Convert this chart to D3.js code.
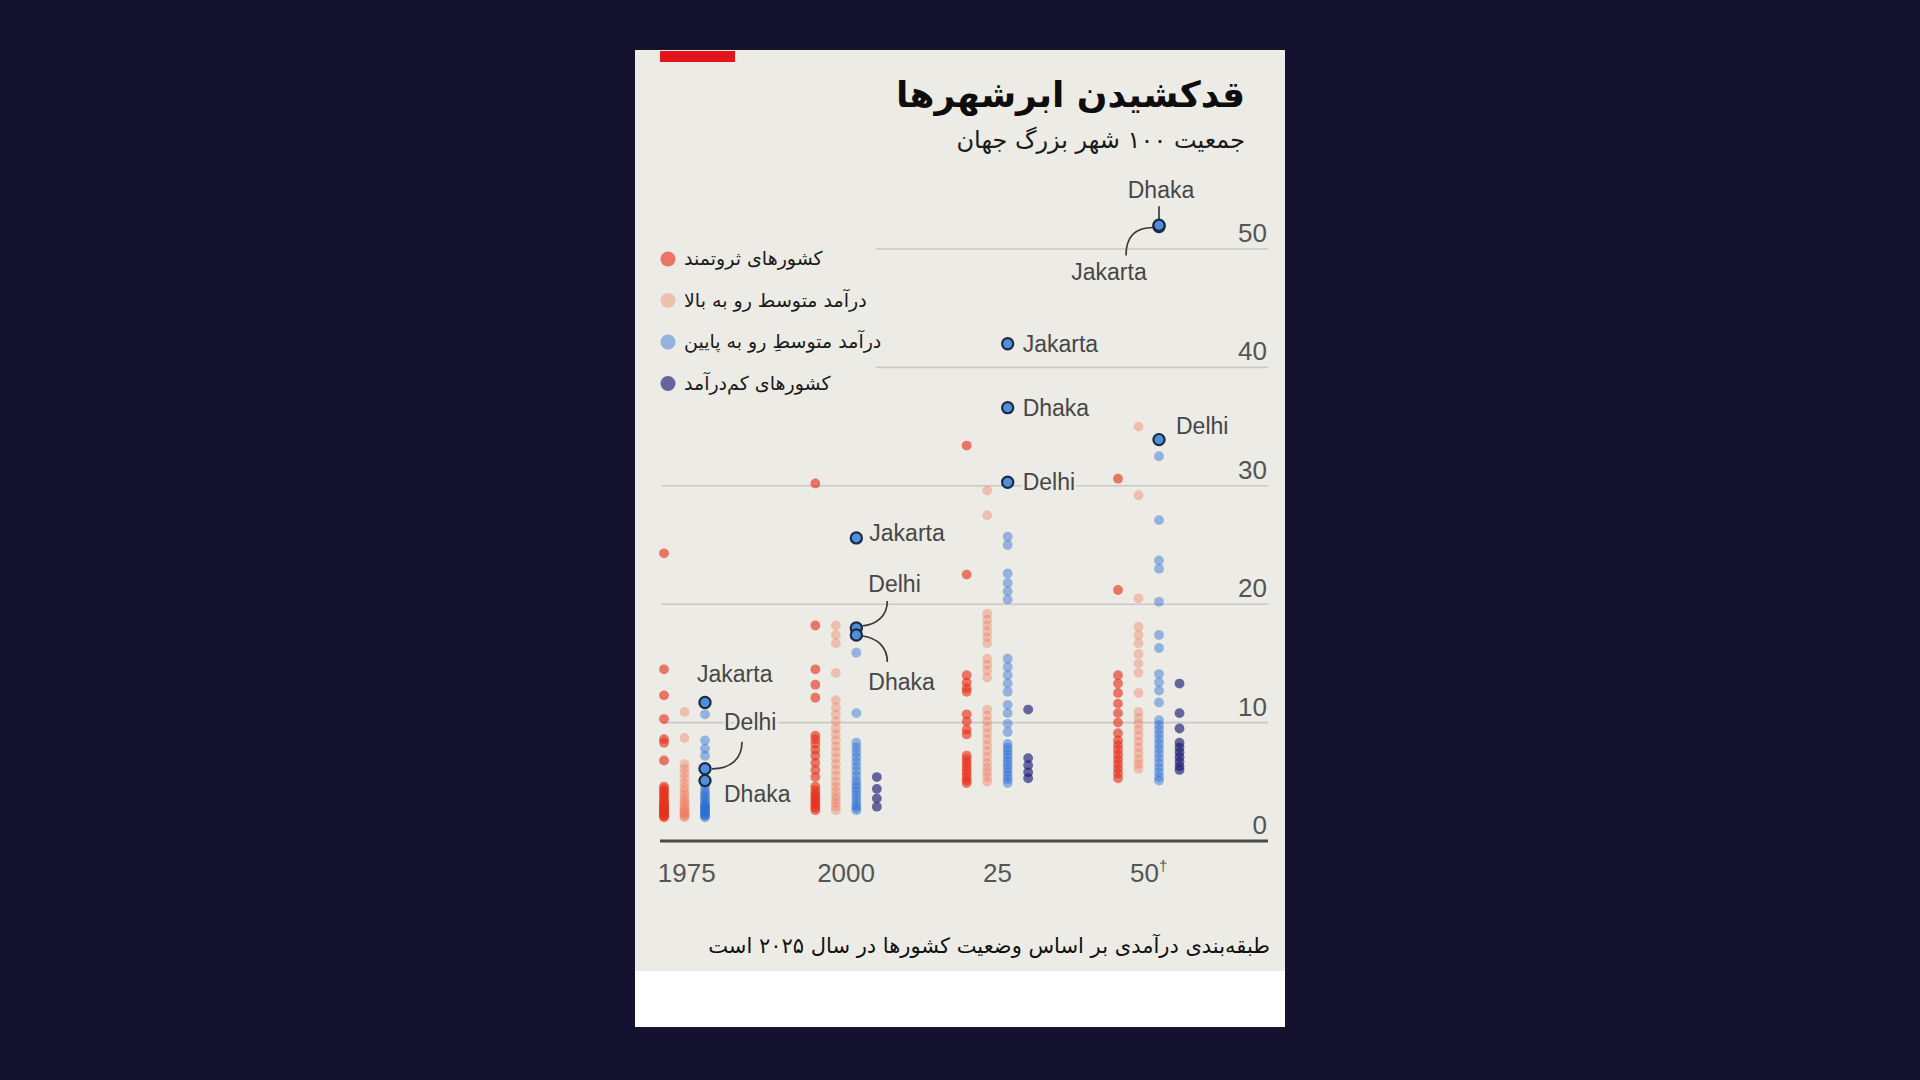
<!DOCTYPE html>
<html><head><meta charset="utf-8">
<script src="https://cdn.jsdelivr.net/npm/d3@7"></script>
<style>
html,body{margin:0;padding:0;background:#15122f;}
svg{display:block}
</style></head>
<body>
<svg id="c" width="1920" height="1080"></svg>
<script>
// ---------- data ----------
const years = [1975, 2000, 2025, 2050];
const yearTickLabels = ["1975", "2000", "25", "50"];
const yTicks = [0, 10, 20, 30, 40, 50];
const categories = ["rich", "upperMid", "lowerMid", "low"];
const legendLabels = ["کشورهای ثروتمند", "درآمد متوسط رو به بالا", "درآمد متوسطِ رو به پایین", "کشورهای کم‌درآمد"];
const titleText = "قدکشیدن ابرشهرها";
const subtitleText = "جمعیت ۱۰۰ شهر بزرگ جهان";
const footnoteText = "طبقه‌بندی درآمدی بر اساس وضعیت کشورها در سال ۲۰۲۵ است";

// population (millions) per year: [1975, 2000, 2025, 2050]
const richValues = [
  [24.3, 14.5, 12.3, 10.3, 8.6, 8.3, 6.8, 4.6, 4.4, 4.2, 4.0, 3.8, 3.6, 3.4, 3.3, 3.1, 3.0, 2.9, 2.8, 2.7, 2.6, 2.5, 2.4, 2.3, 2.2, 2.1, 2.0],
  [30.2, 18.2, 14.5, 13.2, 12.1, 8.9, 8.6, 8.2, 7.7, 7.2, 6.6, 6.0, 5.4, 4.6, 4.3, 4.0, 3.8, 3.6, 3.4, 3.2, 3.0, 2.8, 2.6],
  [33.4, 22.5, 14.0, 13.4, 12.9, 12.6, 10.7, 10.1, 9.4, 9.0, 7.2, 6.9, 6.6, 6.3, 6.0, 5.7, 5.4, 5.1, 4.9],
  [30.6, 21.2, 14.0, 13.3, 12.5, 11.6, 10.8, 10.0, 9.1, 8.5, 8.1, 7.7, 7.3, 6.9, 6.5, 6.1, 5.7, 5.3]
];
const upperMidValues = [
  [10.9, 8.7, 6.5, 6.1, 5.7, 5.3, 4.9, 4.5, 4.2, 3.9, 3.6, 3.4, 3.2, 3.0, 2.8, 2.6, 2.5, 2.4, 2.3, 2.2, 2.1, 2.0],
  [18.2, 17.4, 16.7, 14.2, 11.9, 11.3, 10.7, 10.1, 9.5, 9.0, 8.5, 8.0, 7.5, 7.0, 6.5, 6.0, 5.5, 5.0, 4.6, 4.2, 3.8, 3.5, 3.2, 2.9, 2.6],
  [29.6, 27.5, 19.2, 18.7, 18.2, 17.7, 17.2, 16.7, 15.4, 14.9, 14.4, 13.8, 11.1, 10.6, 10.1, 9.6, 9.1, 8.6, 8.1, 7.6, 7.1, 6.6, 6.2, 5.8, 5.4, 5.0],
  [35.0, 29.2, 20.5, 18.1, 17.4, 16.7, 15.8, 15.0, 14.2, 12.5, 10.9, 10.4, 9.9, 9.4, 8.9, 8.4, 7.9, 7.4, 6.9, 6.5, 6.1]
];
const lowerMidValues = [
  [10.7, 8.5, 7.8, 7.2, 4.7, 4.4, 4.1, 3.9, 3.7, 3.5, 3.3, 3.1, 3.0, 2.9, 2.8, 2.7, 2.6, 2.5, 2.4, 2.3, 2.2, 2.1, 2.0],
  [15.9, 10.8, 8.3, 7.9, 7.5, 7.1, 6.7, 6.3, 5.9, 5.5, 5.1, 4.8, 4.5, 4.2, 3.9, 3.6, 3.3, 3.0, 2.8, 2.6],
  [25.7, 25.0, 22.6, 21.8, 21.1, 20.4, 15.4, 14.7, 14.0, 13.3, 12.6, 11.5, 10.8, 9.9, 9.2, 8.2, 7.9, 7.6, 7.3, 7.0, 6.7, 6.4, 6.1, 5.8, 5.5, 5.2, 4.9],
  [32.5, 27.1, 23.7, 23.0, 20.2, 17.4, 16.3, 14.1, 13.4, 12.7, 11.7, 10.2, 9.8, 9.4, 9.0, 8.6, 8.2, 7.8, 7.4, 7.0, 6.6, 6.2, 5.8, 5.4, 5.1]
];
const lowValues = [
  [],
  [5.4, 4.4, 3.6, 2.9],
  [11.1, 7.0, 6.4, 5.8, 5.3],
  [13.3, 10.8, 9.5, 8.3, 7.9, 7.5, 7.1, 6.7, 6.3, 6.0]
];
const highlightCities = ["Jakarta", "Delhi", "Dhaka"];
const jakartaValues = [11.7, 25.6, 42.0, 51.9];
const delhiValues = [6.1, 18.0, 30.3, 33.9];
const dhakaValues = [5.1, 17.4, 36.6, 52.0];

// ---------- styles ----------
const catStyle = {
  rich: {fill: "#e8321c", op: 0.64},
  upperMid: {fill: "#f07d5e", op: 0.4},
  lowerMid: {fill: "#2a6fd6", op: 0.46},
  low: {fill: "#1e1f78", op: 0.66}
};
const cardBg = "#ecebe5";
const latin = "'Liberation Sans', Arial, sans-serif";
const persian = "'DejaVu Sans', sans-serif";

const svg = d3.select("#c");

// card
svg.append("rect").attr("x", 635).attr("y", 50).attr("width", 650).attr("height", 977).attr("fill", cardBg);
svg.append("rect").attr("x", 635).attr("y", 971).attr("width", 650).attr("height", 56).attr("fill", "#ffffff");
svg.append("rect").attr("x", 660).attr("y", 51).attr("width", 75).attr("height", 11).attr("fill", "#e3141b");

// scales
const y = d3.scaleLinear().domain([0, 50]).range([841, 249]);
const xYear = d3.scalePoint().domain(years).range([664, 1118]);
const xCat = d3.scalePoint().domain(categories).range([0, 61.5]);
const cx = (yr, cat) => xYear(yr) + xCat(cat);

// gridlines
const grid = svg.append("g");
yTicks.filter(t => t > 0).forEach(t => {
  grid.append("line")
    .attr("x1", t >= 40 ? 876 : 662).attr("x2", 1268)
    .attr("y1", y(t)).attr("y2", y(t))
    .attr("stroke", "#c9c8c2").attr("stroke-width", 1.6);
});
// y tick labels
svg.append("g").selectAll("text").data(yTicks).join("text")
  .attr("x", 1267).attr("y", d => y(d) - 7)
  .attr("text-anchor", "end")
  .attr("font-family", latin).attr("font-size", 26)
  .attr("fill", "#555")
  .text(d => d);

// baseline axis
svg.append("line").attr("x1", 660).attr("x2", 1268).attr("y1", y(0)).attr("y2", y(0))
  .attr("stroke", "#4a4a48").attr("stroke-width", 3);

// x tick labels
const xt = svg.append("g").selectAll("text").data(years).join("text")
  .attr("x", (d, i) => xYear(d) + xCat.range()[1] / 2 - (i === 0 ? 8 : 0))
  .attr("y", 882)
  .attr("text-anchor", "middle")
  .attr("font-family", latin).attr("font-size", 26)
  .attr("fill", "#555");
xt.append("tspan").text((d, i) => yearTickLabels[i]);
xt.filter((d, i) => i === 3).append("tspan").text("†")
  .attr("font-size", 15).attr("dy", -11);

// dots
const seriesByCat = {rich: richValues, upperMid: upperMidValues, lowerMid: lowerMidValues, low: lowValues};
const dots = [];
categories.forEach(cat => {
  years.forEach((yr, i) => {
    seriesByCat[cat][i].forEach(v => dots.push({cat, yr, v}));
  });
});
svg.append("g").selectAll("circle").data(dots).join("circle")
  .attr("cx", d => cx(d.yr, d.cat))
  .attr("cy", d => y(d.v))
  .attr("r", 4.9)
  .attr("fill", d => catStyle[d.cat].fill)
  .attr("fill-opacity", d => catStyle[d.cat].op);

// highlighted cities
const hlSeries = {Jakarta: jakartaValues, Delhi: delhiValues, Dhaka: dhakaValues};
const hl = [];
highlightCities.forEach(city => years.forEach((yr, i) => hl.push({city, yr, i, v: hlSeries[city][i]})));

// label layout (offsets relative to the dot)
const labelLayout = {
  "Jakarta-0": {dx: -8, dy: -20, anchor: "start"},
  "Delhi-0": {dx: 19, dy: -39, anchor: "start", leader: (x, y) => `M${x+37},${y-27} C${x+37},${y-10} ${x+26},${y} ${x+7},${y}`},
  "Dhaka-0": {dx: 19, dy: 21, anchor: "start"},
  "Jakarta-1": {dx: 13, dy: 3, anchor: "start"},
  "Delhi-1": {dx: 12, dy: -36, anchor: "start", leader: (x, y) => `M${x+31},${y-27} C${x+31},${y-12} ${x+20},${y-3} ${x+6},${y-2}`},
  "Dhaka-1": {dx: 12, dy: 55, anchor: "start", leader: (x, y) => `M${x+6},${y+1} C${x+21},${y+3} ${x+31},${y+12} ${x+31},${y+27}`},
  "Jakarta-2": {dx: 15, dy: 8, anchor: "start"},
  "Dhaka-2": {dx: 15, dy: 8, anchor: "start"},
  "Delhi-2": {dx: 15, dy: 8, anchor: "start"},
  "Jakarta-3": {dx: -50, dy: 53, anchor: "middle", leader: (x, y) => `M${x-6},${y+1} C${x-24},${y+1} ${x-33},${y+10} ${x-33},${y+29}`},
  "Dhaka-3": {dx: 2, dy: -27, anchor: "middle", leader: (x, y) => `M${x},${y-6} L${x},${y-19}`},
  "Delhi-3": {dx: 17, dy: -6, anchor: "start"}
};

const labG = svg.append("g");
hl.forEach(d => {
  const L = labelLayout[d.city + "-" + d.i];
  const x0 = cx(d.yr, "lowerMid"), y0 = y(d.v);
  if (L.leader) {
    labG.append("path").attr("d", L.leader(x0, y0))
      .attr("fill", "none").attr("stroke", "#3a3a3a").attr("stroke-width", 1.7);
  }
});
svg.append("g").selectAll("circle").data(hl).join("circle")
  .attr("cx", d => cx(d.yr, "lowerMid"))
  .attr("cy", d => y(d.v))
  .attr("r", 5.6)
  .attr("fill", "#4f8fdc")
  .attr("stroke", "#1c2a44").attr("stroke-width", 2.2);
hl.forEach(d => {
  const L = labelLayout[d.city + "-" + d.i];
  const x0 = cx(d.yr, "lowerMid"), y0 = y(d.v);
  svg.append("text")
    .attr("x", x0 + L.dx).attr("y", y0 + L.dy)
    .attr("text-anchor", L.anchor)
    .attr("font-family", latin).attr("font-size", 23)
    .attr("fill", "#474747")
    .attr("stroke", cardBg).attr("stroke-width", 5).attr("paint-order", "stroke")
    .text(d.city);
});

// persian text helper
function pText(str, edgeX, baseline, size, weight, align, color) {
  const t = svg.append("text")
    .attr("direction", "rtl")
    .attr("text-anchor", "middle")
    .attr("font-family", persian).attr("font-size", size).attr("font-weight", weight)
    .attr("fill", color || "#111")
    .attr("y", baseline)
    .text(str);
  const w = t.node().getComputedTextLength();
  t.attr("x", align === "right" ? edgeX - w / 2 : edgeX + w / 2);
  return t;
}

pText(titleText, 1245, 107, 36, "bold", "right", "#0d0d0d");
pText(subtitleText, 1245, 148, 24, "normal", "right", "#1a1a1a");

// legend
const lg = svg.append("g");
categories.forEach((cat, i) => {
  const ly = 259 + i * 41.5;
  lg.append("circle").attr("cx", 668).attr("cy", ly).attr("r", 7.5)
    .attr("fill", catStyle[cat].fill).attr("fill-opacity", catStyle[cat].op);
  pText(legendLabels[i], 684, ly + 6, 19, "normal", "left", "#1a1a1a");
});

// footnote
pText(footnoteText, 1270, 953, 21, "normal", "right", "#111");
</script>
</body></html>
